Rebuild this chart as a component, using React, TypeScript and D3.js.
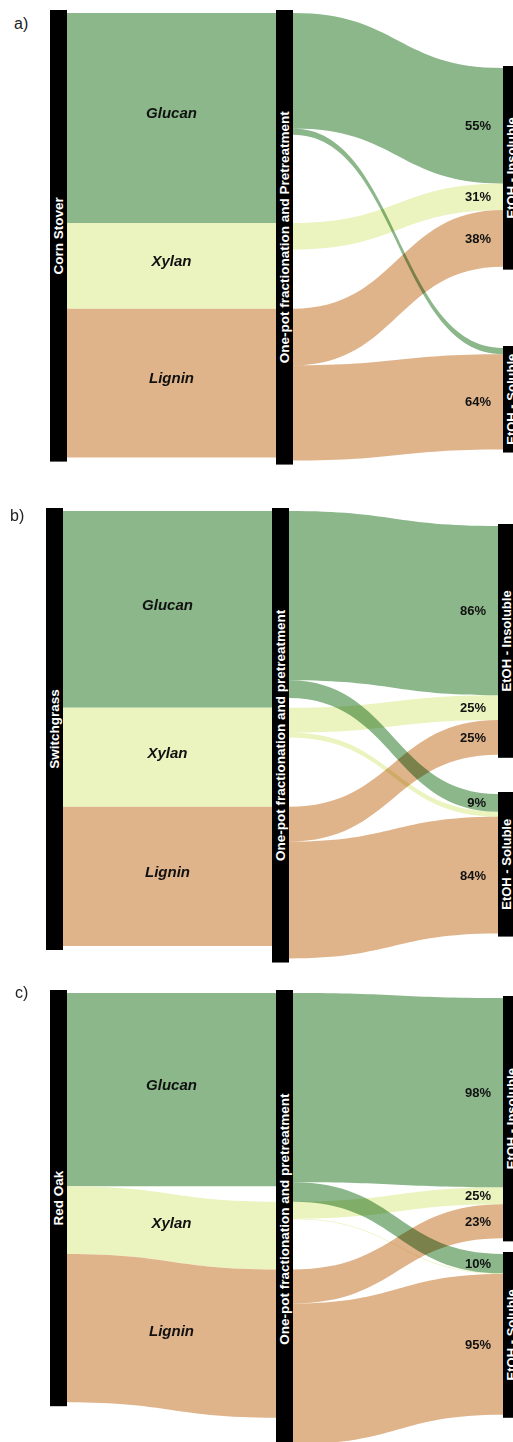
import React from "react";
import * as d3 from "d3";

// ---------- data ----------
const panelLetters = ["a)", "b)", "c)"];
const feedstocks = ["Corn Stover", "Switchgrass", "Red Oak"];
const processLabels = [
  "One-pot fractionation and Pretreatment",
  "One-pot fractionation and pretreatment",
  "One-pot fractionation and pretreatment",
];
const components = ["Glucan", "Xylan", "Lignin"];
const fractions = ["EtOH - Insoluble", "EtOH - Soluble"];

// composition of each feedstock (wt%, Glucan / Xylan / Lignin)
const cornStoverComposition = [35.0, 14.3, 24.8];
const switchgrassComposition = [32.8, 16.5, 23.2];
const redOakComposition = [32.2, 11.3, 24.7];

// share of each component recovered in each fraction (%)
const cornStoverInsoluble = [55, 31, 38];
const cornStoverSoluble = [3, 0, 64];
const switchgrassInsoluble = [86, 25, 25];
const switchgrassSoluble = [9, 5, 84];
const redOakInsoluble = [98, 25, 23];
const redOakSoluble = [10, 1, 95];

// which flows carry a printed percentage
const cornStoverSolubleLabelled = [false, false, true];
const switchgrassSolubleLabelled = [true, false, true];
const redOakSolubleLabelled = [true, false, true];

const compositions = [cornStoverComposition, switchgrassComposition, redOakComposition];
const insolubles = [cornStoverInsoluble, switchgrassInsoluble, redOakInsoluble];
const solubles = [cornStoverSoluble, switchgrassSoluble, redOakSoluble];
const solubleLabelled = [cornStoverSolubleLabelled, switchgrassSolubleLabelled, redOakSolubleLabelled];

// ---------- layout / style ----------
const W = 513;
const H = 1442;
const BAR = 17;
const layouts = [
  { top: 13, x0: 50, x1: 276, x2: 503, insTop: 68, solTop: 348, letter: [14, 29] },
  { top: 511, x0: 46, x1: 272, x2: 498, insTop: 526, solTop: 794, letter: [10, 521] },
  { top: 993, x0: 50, x1: 276, x2: 503, insTop: 998, solTop: 1254, letter: [15, 998] },
];
const colors = ["#8bb78b", "#ebf3be", "#e0b48a"];
const FONT = "'Liberation Sans', Arial, Helvetica, sans-serif";

const y = d3.scaleLinear().domain([0, 100]).range([0, 600]);

function band(x0: number, y0t: number, y0b: number, x1: number, y1t: number, y1b: number) {
  const xm = (x0 + x1) / 2;
  const p = d3.path();
  p.moveTo(x0, y0t);
  p.bezierCurveTo(xm, y0t, xm, y1t, x1, y1t);
  p.lineTo(x1, y1b);
  p.bezierCurveTo(xm, y1b, xm, y0b, x0, y0b);
  p.closePath();
  return p.toString();
}

function Panel({ i }: { i: number }) {
  const L = layouts[i];
  const comp = compositions[i];
  const ins = insolubles[i];
  const sol = solubles[i];
  const h = comp.map((c) => y(c));

  // left node stacking
  const leftTops: number[] = [];
  let acc = L.top;
  h.forEach((v) => {
    leftTops.push(acc);
    acc += v;
  });
  const leftBottom = acc;

  // middle node slots: max(input, sum of outputs)
  const midTops: number[] = [];
  acc = L.top;
  h.forEach((v, k) => {
    midTops.push(acc);
    const out = (v * (ins[k] + sol[k])) / 100;
    acc += Math.max(v, out);
  });
  const midBottom = acc;

  const insW = h.map((v, k) => (v * ins[k]) / 100);
  const solW = h.map((v, k) => (v * sol[k]) / 100);

  // right nodes stacking
  const insTops: number[] = [];
  acc = L.insTop;
  insW.forEach((w) => {
    insTops.push(acc);
    acc += w;
  });
  const insBottom = acc;
  const solTops: number[] = [];
  acc = L.solTop;
  solW.forEach((w) => {
    solTops.push(acc);
    acc += w;
  });
  const solBottom = acc;

  const lx = L.x0 + BAR;
  const mx0 = L.x1;
  const mx1 = L.x1 + BAR;
  const rx = L.x2;

  const paths: any[] = [];
  const labels: any[] = [];
  components.forEach((c, k) => {
    // input flow
    paths.push(
      <path key={"in" + k} d={band(lx, leftTops[k], leftTops[k] + h[k], mx0, midTops[k], midTops[k] + h[k])}
        fill={colors[k]} />
    );
    const midY = (leftTops[k] + midTops[k]) / 2 + h[k] / 2;
    labels.push(
      <text key={"lab" + k} x={(lx + mx0) / 2} y={midY - 5} dy="0.35em" textAnchor="middle"
        fontFamily={FONT} fontWeight="bold" fontStyle="italic" fontSize={15} fill="#111">{c}</text>
    );
    // to insoluble
    if (insW[k] > 0) {
      const a = midTops[k];
      paths.push(
        <path key={"ins" + k} d={band(mx1, a, a + insW[k], rx, insTops[k], insTops[k] + insW[k])}
          fill={colors[k]} style={{ mixBlendMode: "multiply" }} />
      );
      labels.push(
        <text key={"pi" + k} x={rx - 12} y={insTops[k] + insW[k] / 2} dy="0.35em" textAnchor="end"
          fontFamily={FONT} fontWeight="bold" fontSize={13} fill="#111">{ins[k] + "%"}</text>
      );
    }
    if (solW[k] > 0) {
      const a = midTops[k] + insW[k];
      paths.push(
        <path key={"sol" + k} d={band(mx1, a, a + solW[k], rx, solTops[k], solTops[k] + solW[k])}
          fill={colors[k]} style={{ mixBlendMode: "multiply" }} />
      );
      if (solubleLabelled[i][k]) {
        labels.push(
          <text key={"ps" + k} x={rx - 12} y={solTops[k] + solW[k] / 2} dy="0.35em" textAnchor="end"
            fontFamily={FONT} fontWeight="bold" fontSize={13} fill="#111">{sol[k] + "%"}</text>
        );
      }
    }
  });

  const barText = (x: number, y0: number, y1: number, t: string, size: number, key: string) => (
    <text key={key} transform={`translate(${x + BAR / 2},${(y0 + y1) / 2}) rotate(-90)`} textAnchor="middle"
      dominantBaseline="central" fontFamily={FONT} fontWeight="bold" fontSize={size} fill="#fff">{t}</text>
  );

  const bars = [
    { x: L.x0, y0: L.top - 3, y1: leftBottom + 4, t: feedstocks[i], s: 13.5 },
    { x: L.x1, y0: L.top - 3, y1: midBottom + 4, t: processLabels[i], s: 13.5 },
    { x: L.x2, y0: L.insTop - 2, y1: insBottom + 3, t: fractions[0], s: 13 },
    { x: L.x2, y0: L.solTop - 2, y1: solBottom + 3, t: fractions[1], s: 13 },
  ];

  return (
    <g>
      <text x={L.letter[0]} y={L.letter[1]} fontFamily={FONT} fontSize={16} fill="#222">{panelLetters[i]}</text>
      <g style={{ isolation: "isolate" }}>{paths}</g>
      {bars.map((b, k) => (
        <g key={"bar" + k}>
          <rect x={b.x} y={b.y0} width={BAR} height={b.y1 - b.y0} fill="#000" />
          {barText(b.x, b.y0, b.y1, b.t, b.s, "bt" + k)}
        </g>
      ))}
      {labels}
    </g>
  );
}

export default function App() {
  return (
    <svg width={W} height={H} viewBox={`0 0 ${W} ${H}`}
      style={{ position: "absolute", left: 0, top: 0, background: "#fff" }}>
      <rect width={W} height={H} fill="#fff" />
      {panelLetters.map((_, i) => (
        <Panel key={i} i={i} />
      ))}
    </svg>
  );
}
